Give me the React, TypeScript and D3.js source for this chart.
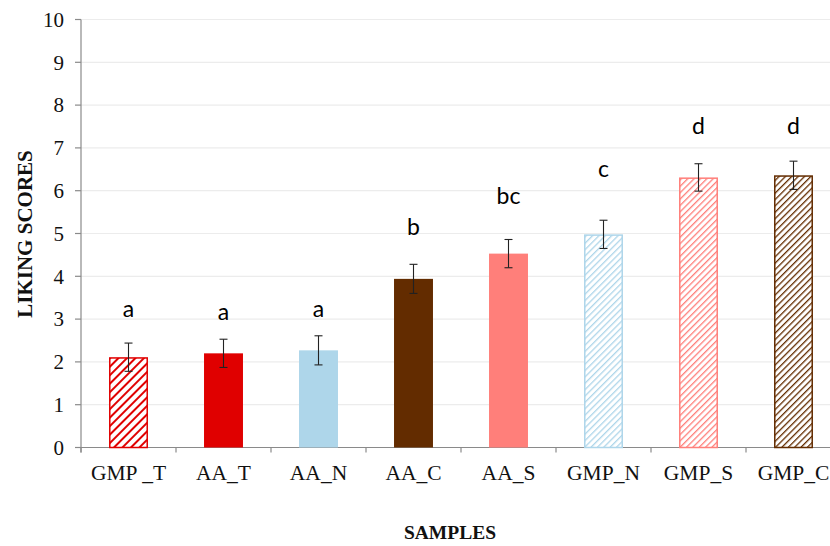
import React from "react";
import * as d3 from "d3";

const categories = ["GMP _T", "AA_T", "AA_N", "AA_C", "AA_S", "GMP_N", "GMP_S", "GMP_C"];
const means = [2.11, 2.2, 2.27, 3.94, 4.53, 4.98, 6.31, 6.36];
const errors = [0.33, 0.33, 0.34, 0.34, 0.33, 0.33, 0.32, 0.33];
const letters = ["a", "a", "a", "b", "bc", "c", "d", "d"];
const letterLevels = [3.05, 2.98, 3.05, 4.97, 5.7, 6.32, 7.32, 7.32];
const colors = ["#E00000", "#E00000", "#AED6EA", "#632C00", "#FF7F7A", "#AED6EA", "#FF7F7A", "#632C00"];
const hatched = [true, false, false, false, false, true, true, true];
const yTicks = [0, 1, 2, 3, 4, 5, 6, 7, 8, 9, 10];

const W = 830;
const H = 546;
const left = 81;
const top = 19.5;
const bottom = 447.5;

export default function App() {
  const x = d3.scaleBand<string>().domain(categories).range([left, left + 8 * 95]).paddingInner(0.59).paddingOuter(0.295);
  const y = d3.scaleLinear().domain([0, 10]).range([bottom, top]);
  const step = x.step();
  const bw = x.bandwidth();
  const serif = "'Liberation Serif', 'Times New Roman', serif";
  const sans = "Lato, 'Open Sans', sans-serif";

  return (
    <svg width={W} height={H} style={{ position: "absolute", left: 0, top: 0, background: "#fff" }}>
      <defs>
        {categories.map((c, i) =>
          hatched[i] ? (
            <pattern
              key={c}
              id={`hatch${i}`}
              patternUnits="userSpaceOnUse"
              width={i === 0 ? 6 : 4.5}
              height={i === 0 ? 6 : 4.5}
              patternTransform="rotate(45)"
            >
              <rect width={i === 0 ? 6 : 4.5} height={i === 0 ? 6 : 4.5} fill="#fff" />
              <line x1={0} y1={0} x2={0} y2={i === 0 ? 6 : 4.5} stroke={colors[i]} strokeWidth={i === 0 ? 4 : 2.6} />
            </pattern>
          ) : null
        )}
      </defs>
      <rect width={W} height={H} fill="#fff" />
      {yTicks.map((t) =>
        t > 0 ? <line key={t} x1={left} x2={W} y1={y(t)} y2={y(t)} stroke="#ececec" strokeWidth={1.2} /> : null
      )}
      <line x1={left} x2={left} y1={top} y2={bottom + 5} stroke="#8a8a8a" strokeWidth={1.2} />
      {yTicks.map((t) => (
        <g key={t}>
          <line x1={left - 6} x2={left} y1={y(t)} y2={y(t)} stroke="#8a8a8a" strokeWidth={1.2} />
          <text x={left - 17} y={y(t)} dy="0.35em" textAnchor="end" fontFamily={serif} fontSize={21} fill="#111">
            {t}
          </text>
        </g>
      ))}
      <line x1={left} x2={W} y1={bottom} y2={bottom} stroke="#8a8a8a" strokeWidth={1.2} />
      {categories.map((c, i) => (
        <line key={c} x1={left + i * step} x2={left + i * step} y1={bottom} y2={bottom + 5} stroke="#8a8a8a" strokeWidth={1.2} />
      ))}
      {categories.map((c) => (
        <text key={c} x={(x(c) as number) + bw / 2} y={480} textAnchor="middle" fontFamily={serif} fontSize={21.5} fill="#111">
          {c}
        </text>
      ))}
      {categories.map((c, i) =>
        hatched[i] ? (
          <rect
            key={c}
            x={(x(c) as number) + 0.75}
            y={y(means[i]) + 0.75}
            width={bw - 1.5}
            height={bottom - y(means[i]) - 0.75}
            fill={`url(#hatch${i})`}
            stroke={colors[i]}
            strokeWidth={1.5}
          />
        ) : (
          <rect key={c} x={x(c) as number} y={y(means[i])} width={bw} height={bottom - y(means[i])} fill={colors[i]} />
        )
      )}
      {categories.map((c, i) => {
        const cx = (x(c) as number) + bw / 2;
        const y1 = y(means[i] + errors[i]);
        const y2 = y(means[i] - errors[i]);
        return (
          <g key={c} stroke="#222" strokeWidth={1.1}>
            <line x1={cx} x2={cx} y1={y1} y2={y2} />
            <line x1={cx - 4} x2={cx + 4} y1={y1} y2={y1} />
            <line x1={cx - 4} x2={cx + 4} y1={y2} y2={y2} />
          </g>
        );
      })}
      {categories.map((c, i) => (
        <text key={c} x={(x(c) as number) + bw / 2} y={y(letterLevels[i])} textAnchor="middle" fontFamily={sans} fontSize={23} fill="#000">
          {letters[i]}
        </text>
      ))}
      <text
        transform={`translate(32, 234) rotate(-90)`}
        textAnchor="middle"
        fontFamily={serif}
        fontWeight="bold"
        fontSize={21}
        fill="#111"
      >
        LIKING SCORES
      </text>
      <text x={450} y={539} textAnchor="middle" fontFamily={serif} fontWeight="bold" fontSize={19.5} fill="#111">
        SAMPLES
      </text>
    </svg>
  );
}
